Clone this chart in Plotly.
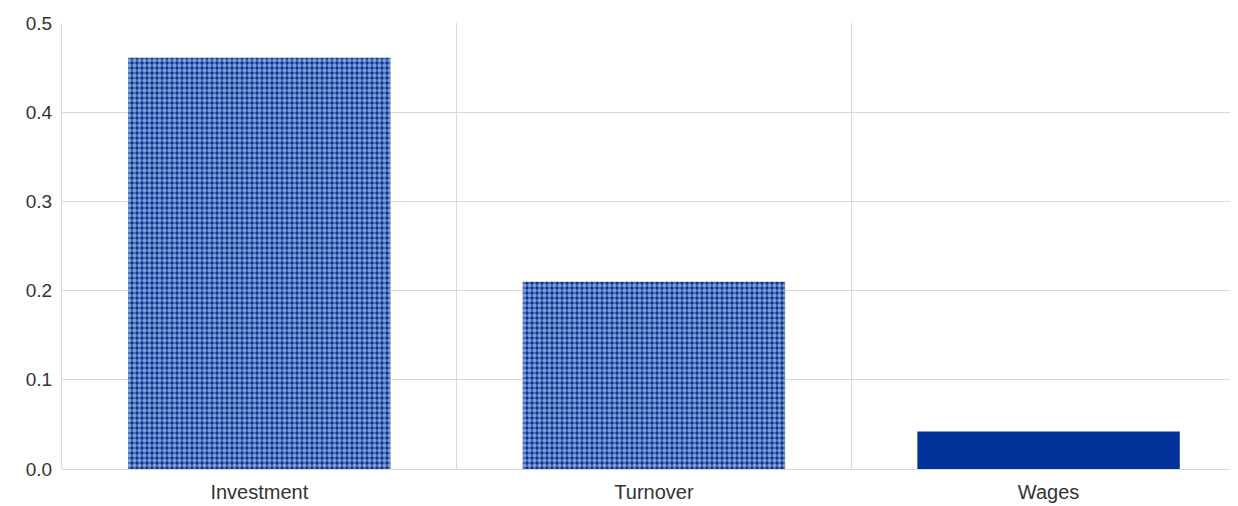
import plotly.graph_objects as go

categories = ["Investment", "Turnover", "Wages"]
values = [0.461, 0.21, 0.042]
patterns = [".", ".", ""]

fig = go.Figure()
fig.add_trace(go.Bar(
    x=categories,
    y=values,
    width=0.665,
    marker=dict(
        color="#003299",
        line=dict(width=0),
        pattern=dict(shape=patterns, fgcolor="white", bgcolor="#003299",
                     size=5, solidity=0.6, fillmode="overlay"),
    ),
))

fig.update_layout(
    width=1230, height=498,
    margin=dict(l=54, r=0, t=15, b=37),
    paper_bgcolor="white", plot_bgcolor="white",
    font=dict(family="Liberation Sans, Arial, sans-serif", size=19, color="#333333"),
    showlegend=False,
    bargap=0.335,
    xaxis=dict(
        type="category",
        range=[-0.5, 2.48],
        tickson="boundaries",
        showgrid=True, gridcolor="#d9d9d9", gridwidth=1,
        ticks="", showline=False, zeroline=False,
        tickfont=dict(size=20),
        ticklabelstandoff=9,
    ),
    yaxis=dict(
        range=[0, 0.5],
        tickvals=[0, 0.1, 0.2, 0.3, 0.4, 0.5],
        ticktext=["0.0", "0.1", "0.2", "0.3", "0.4", "0.5"],
        showgrid=True, gridcolor="#d9d9d9", gridwidth=1,
        zeroline=True, zerolinecolor="#d9d9d9", zerolinewidth=1,
        showline=True, linecolor="#d9d9d9", linewidth=1,
        ticks="",
        tickfont=dict(size=19),
        ticklabelstandoff=5,
    ),
)

fig.write_html("out.html")
